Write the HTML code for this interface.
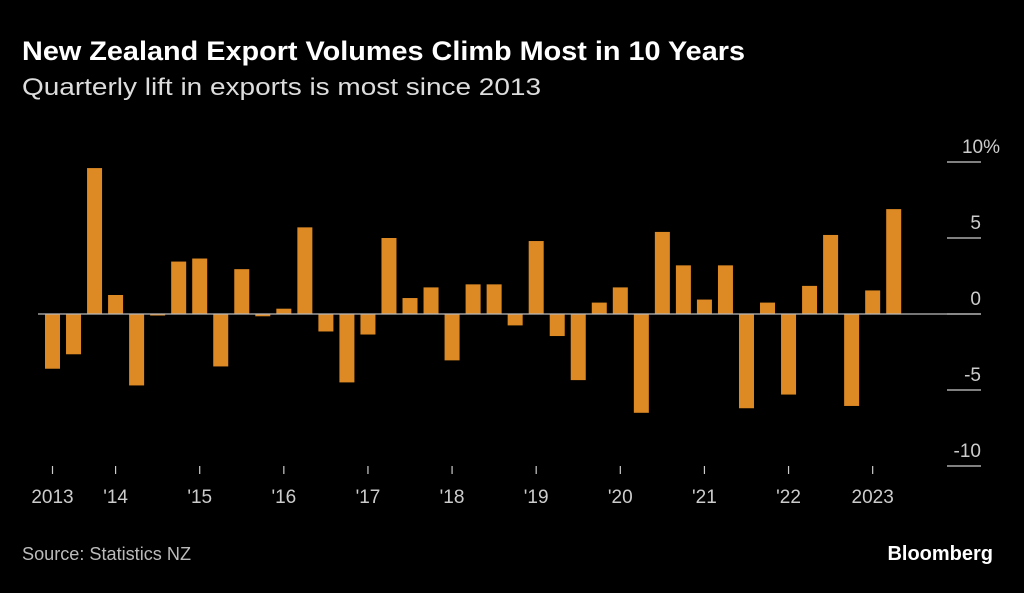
<!DOCTYPE html>
<html><head><meta charset="utf-8"><style>
body{margin:0;background:#000;width:1024px;height:588px;overflow:hidden;font-family:"Liberation Sans",sans-serif}
</style></head><body>
<svg width="1024" height="588" id="svg">
<text x="22" y="60" fill="#fff" font-size="27" font-weight="bold" textLength="723" lengthAdjust="spacingAndGlyphs">New Zealand Export Volumes Climb Most in 10 Years</text>
<text x="22" y="95" fill="#ddd" font-size="24" textLength="519" lengthAdjust="spacingAndGlyphs">Quarterly lift in exports is most since 2013</text>
<text x="22" y="560" fill="#bbb" font-size="18" textLength="169" lengthAdjust="spacingAndGlyphs">Source: Statistics NZ</text>
<text x="993" y="560" fill="#fff" font-size="20" font-weight="bold" text-anchor="end">Bloomberg</text>
<g id="plot"></g>
</svg>
<script>
const values=[-3.6,-2.65,9.6,1.25,-4.7,-0.1,3.45,3.65,-3.45,2.95,-0.15,0.35,5.7,-1.15,-4.5,-1.35,5.0,1.05,1.75,-3.05,1.95,1.95,-0.75,4.8,-1.45,-4.35,0.75,1.75,-6.5,5.4,3.2,0.95,3.2,-6.2,0.75,-5.3,1.85,5.2,-6.05,1.55,6.9];
const yTicks=[10,5,0,-5,-10];
const yLabels=["10%","5","0","-5","-10"];
const xLabels=["2013","'14","'15","'16","'17","'18","'19","'20","'21","'22","2023"];
const xLabelIdx=[0,3,7,11,15,19,23,27,31,35,39];
const NS="http://www.w3.org/2000/svg";
const g=document.getElementById('plot');
const y=v=>314-v*15.2;
const x=i=>52.5+i*21.03;
function mk(t,a){const e=document.createElementNS(NS,t);for(const k in a)e.setAttribute(k,a[k]);g.appendChild(e);return e;}
yTicks.forEach((t,i)=>{
 const l=mk('line',{x1:947,x2:981,y1:y(t),y2:y(t),stroke:'#ccc','stroke-width':1.2});
 
 
 const tx=mk('text',{x:t===10?1000:981,y:y(t)-9,fill:'#ccc','font-size':19,'text-anchor':'end'});
 tx.textContent=yLabels[i];
 
 
});
values.forEach((v,i)=>{
 const r=mk('rect',{x:x(i)-7.5,width:15,y:Math.min(y(v),y(0)),height:Math.max(Math.abs(y(v)-y(0)),1),fill:'#dd8a25'});
 
 
});
const z=mk('line',{x1:38,x2:981,y1:y(0),y2:y(0),stroke:'#bbb','stroke-width':1.2});


xLabels.forEach((s,i)=>{
 const xi=x(xLabelIdx[i]);
 const t=mk('line',{x1:xi,x2:xi,y1:466,y2:474,stroke:'#ccc','stroke-width':1.2});
 
 
 const tx=mk('text',{x:xi,y:503,fill:'#ccc','font-size':19,'text-anchor':'middle'});
 tx.textContent=s;
 
 
});
</script>
</body></html>
